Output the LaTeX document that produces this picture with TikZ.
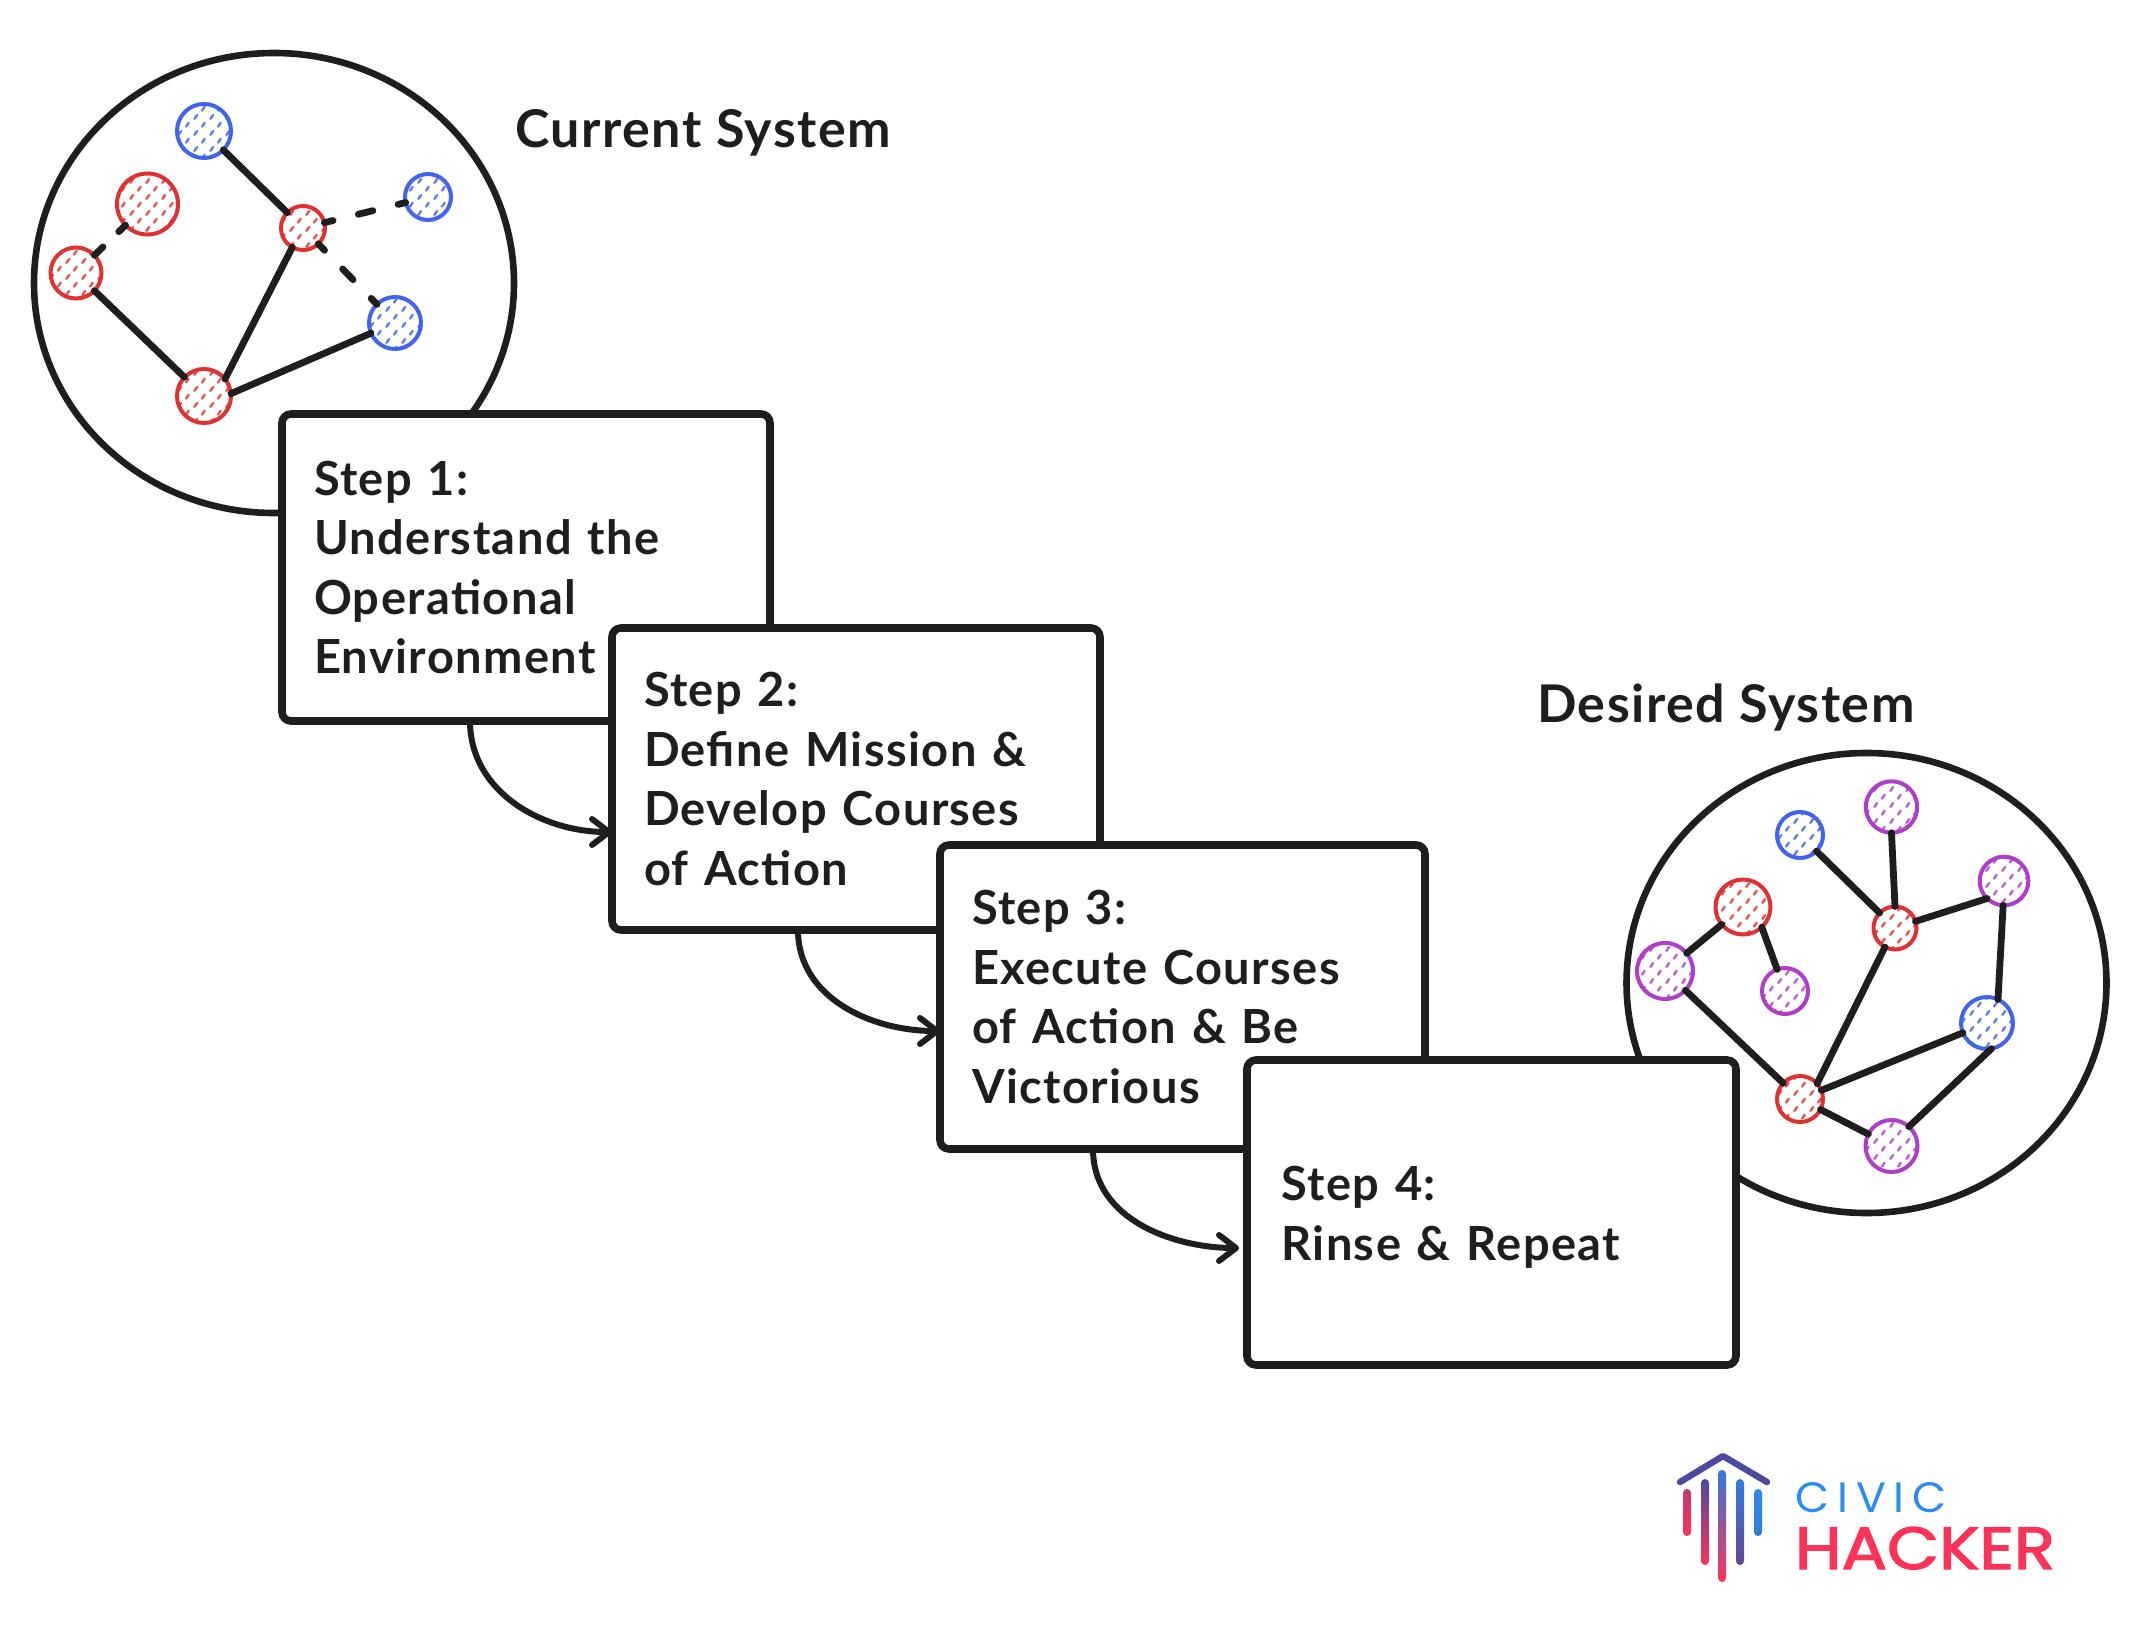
\documentclass[tikz,border=0pt]{standalone}
\usepackage{fontspec}
\usepackage{graphicx}
\setmainfont{Lato}[LetterSpace=3]
\newfontfamily\logofont{Poppins}[LetterSpace=18]
\newfontfamily\hackerfont{Poppins}[FakeBold=2.2]
\usetikzlibrary{shapes.geometric,patterns,arrows.meta}
\definecolor{ink}{HTML}{1E1E1E}
\definecolor{gred}{HTML}{E03131}
\definecolor{gblue}{HTML}{4263EB}
\definecolor{gpurple}{HTML}{AE3EC9}
\definecolor{logored}{HTML}{FB3358}
\definecolor{logoblue}{HTML}{2A8CF0}
\definecolor{logoindigo}{HTML}{4B4A9E}
\pgfdeclarepatternformonly{hach}{\pgfqpoint{0pt}{0pt}}{\pgfqpoint{8pt}{8pt}}{\pgfqpoint{8pt}{8pt}}{%
  \pgfsetlinewidth{1.2pt}\pgfsetroundcap
  \pgfpathmoveto{\pgfqpoint{1.25pt}{4.75pt}}\pgfpathlineto{\pgfqpoint{2.65pt}{6.75pt}}
  \pgfpathmoveto{\pgfqpoint{5.25pt}{0.75pt}}\pgfpathlineto{\pgfqpoint{6.65pt}{2.75pt}}
  \pgfusepath{stroke}}
\tikzset{
  x=0.5pt,y=-0.5pt,
  gnode/.style={circle,draw=#1,line width=2pt,inner sep=0pt,outer sep=0pt,
    pattern=hach,pattern color=#1!85!white},
  rednode/.style={gnode=gred,minimum size=#1},
  bluenode/.style={gnode=gblue,minimum size=#1},
  purplenode/.style={gnode=gpurple,minimum size=#1},
  ring/.style={ellipse,draw=ink,line width=3.3pt,fill=white,inner sep=0pt,outer sep=0pt,
    minimum width=240pt,minimum height=230pt},
  stepbox/.style 2 args={draw=ink,fill=white,line width=3.8pt,rounded corners=4.5pt,
    inner sep=0pt,inner xsep=16pt,outer sep=0pt,
    minimum width=#1*0.5pt,minimum height=#2*0.5pt,text width=#1*0.5pt-32pt,align=left,
    text=ink,font=\stepfont},
  link/.style={draw=ink,line width=3.4pt,line cap=round},
  dashlink/.style={link,dash pattern=on 7.5pt off 13pt,dash phase=3pt},
  flow/.style={draw=ink,line width=3pt,line cap=round,
    -{Straight Barb[length=8.5pt,width=13pt,round]}},
  heading/.style={anchor=base west,inner sep=0pt,outer sep=0pt,text=ink,font=\headfont},
  logobar/.style={rounded corners=2pt},
}
\newcommand{\stepfont}{\fontsize{23.5}{29.75}\selectfont\bfseries}
\newcommand{\headfont}{\fontsize{26}{30}\selectfont\bfseries}
\begin{document}
\begin{tikzpicture}
\useasboundingbox (0,0) rectangle (2133,1632);
% current system
\node[ring] (cur) at (274,283) {};
\node[bluenode=27pt] (A) at (204,131) {};
\node[rednode=30.5pt] (B) at (147.5,204) {};
\node[rednode=25.5pt] (C) at (76,273) {};
\node[rednode=27pt] (D) at (204,396) {};
\node[rednode=22pt] (E) at (303,228) {};
\node[bluenode=23pt] (F) at (428,197) {};
\node[bluenode=26pt] (G) at (395,323) {};
\draw[link] (A) -- (E);
\draw[link] (E.-119) -- (D.39);
\draw[link] (C) -- (D);
\draw[link] (D.5) -- (G.203);
\draw[link,dash pattern=on 6pt off 11pt,dash phase=0pt] (C) -- (B);
\draw[dashlink] (E) -- (F);
\draw[dashlink] (E) -- (G);
\node[heading] (curlabel) at (515,148) {Current System};
% desired system
\node[ring] (des) at (1866.5,983) {};
\node[bluenode=23pt] (a) at (1800,835) {};
\node[purplenode=25.7pt] (b) at (1891.5,807) {};
\node[purplenode=24.3pt] (c) at (2004,881) {};
\node[rednode=21.5pt] (d) at (1895,928) {};
\node[rednode=27.5pt] (e) at (1743,907) {};
\node[purplenode=28pt] (f) at (1665,971) {};
\node[purplenode=23pt] (g) at (1785,991) {};
\node[bluenode=26pt] (h) at (1987,1023) {};
\node[rednode=23pt] (i) at (1800,1099) {};
\node[purplenode=26pt] (j) at (1891.5,1146) {};
\draw[link] (a) -- (d);
\draw[link] (b.-90) -- (d.90);
\draw[link] (d.18) -- (c.-134);
\draw[link] (c.-92) -- (h.65);
\draw[link] (d.-118) -- (i.42);
\draw[link] (e) -- (f);
\draw[link] (e.-47) -- (g.110);
\draw[link] (f) -- (i);
\draw[link] (h) -- (i);
\draw[link] (h.-80) -- (j.48);
\draw[link] (i) -- (j);
\node[heading] (deslabel) at (1537,722) {Desired System};
% steps
\node[stepbox={488}{307}] (b1) at (526,567.5) {Step 1:\\Understand the\\Operational\\Environment};
\node[stepbox={488}{302}] (b2) at (856,779) {Step 2:\\Define Mission \&\\Develop Courses\\of Action};
\node[stepbox={485}{304}] (b3) at (1182.5,997) {Step 3:\\Execute Courses\\of Action \& Be\\Victorious};
\node[stepbox={489}{305}] (b4) at (1491.5,1212.5) {\hspace*{1.2pt}\rule{0pt}{22pt}Step 4:\\\hspace*{1.2pt}Rinse \& Repeat};
\draw[flow] ([xshift=-28pt]b1.south) to[out=-90,in=180] ([yshift=-26.5pt]b2.west);
\draw[flow] ([xshift=-29pt]b2.south) to[out=-90,in=180] ([yshift=-17pt]b3.west);
\draw[flow,shorten >=4pt] ([xshift=-44.75pt]b3.south) to[out=-90,in=180] ([yshift=-17.75pt]b4.west);
% logo
\draw[logoindigo,line width=3.2pt,line cap=round,line join=round] (1680,1482) -- (1723,1456) -- (1767,1482);
\shade[logobar,top color=logored!65!logoindigo,bottom color=logored] (1683,1489) rectangle (1691,1536);
\shade[logobar,top color=logoindigo,bottom color=logored] (1701,1479) rectangle (1709,1565);
\shade[logobar,top color=logoblue!70!logoindigo,middle color=logoindigo,bottom color=logored] (1718,1470) rectangle (1726,1582);
\shade[logobar,top color=logoblue!80!logoindigo,bottom color=logoindigo!85!logored] (1736,1479) rectangle (1744,1565);
\shade[logobar,top color=logoblue,bottom color=logoblue!70!logoindigo] (1754,1489) rectangle (1762,1536);
\node[anchor=base west,inner sep=0pt,outer sep=0pt,text=logoblue] (civic) at (1795,1512)
  {\resizebox{76pt}{15pt}{\logofont CIVIC}};
\node[anchor=base west,inner sep=0pt,outer sep=0pt,text=logored] (hacker) at (1795,1569)
  {\resizebox{130pt}{21pt}{\hackerfont HACKER}};
\end{tikzpicture}
\end{document}
